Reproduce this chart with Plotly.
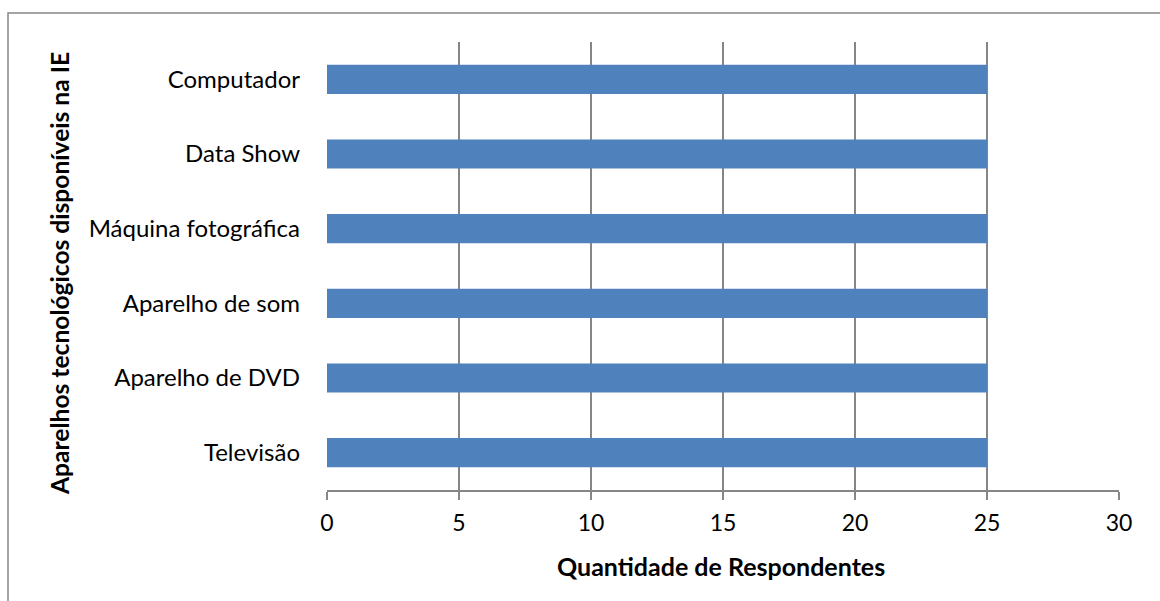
import plotly.graph_objects as go

categories = ["Televisão", "Aparelho de DVD", "Aparelho de som",
              "Máquina fotográfica", "Data Show", "Computador"]
values = [25, 25, 25, 25, 25, 25]
x_ticks = [0, 5, 10, 15, 20, 25, 30]
x_title = "Quantidade de Respondentes"
y_title = "Aparelhos tecnológicos disponíveis na IE"

GRID = "#868686"
FONT = "Lato, 'Open Sans', sans-serif"

fig = go.Figure(go.Bar(
    y=categories, x=values, orientation="h",
    marker=dict(color="#4F81BD", line=dict(width=0)),
))

L, R, T, B = 327, 41, 42, 111
W, H = 1160, 601
pw, ph = W - L - R, H - T - B

def px_x(p):
    return (p - L) / pw

def px_y(p):
    return (H - B - p) / ph

fig.update_layout(
    width=W, height=H,
    margin=dict(l=L, r=R, t=T, b=B),
    paper_bgcolor="white", plot_bgcolor="white",
    bargap=0.61,
    showlegend=False,
    font=dict(family=FONT, size=24, color="#000000"),
    xaxis=dict(
        range=[0, 30], tickvals=x_ticks, ticktext=[str(v) for v in x_ticks],
        showgrid=True, gridcolor=GRID, gridwidth=1.5,
        showline=True, linecolor=GRID, linewidth=1.5,
        ticks="outside", ticklen=8, tickcolor=GRID, tickwidth=1.5,
        zeroline=False, fixedrange=True,
        ticklabelstandoff=4,
        tickfont=dict(size=23),
    ),
    yaxis=dict(
        categoryorder="array", categoryarray=categories,
        showgrid=False, showline=False, ticks="", zeroline=False,
        ticklabelstandoff=26,
        tickfont=dict(size=24),
        fixedrange=True,
    ),
    annotations=[
        dict(text="<b>" + x_title + "</b>", xref="paper", yref="paper",
             x=px_x(721), y=px_y(566), showarrow=False,
             xanchor="center", yanchor="middle", font=dict(size=25)),
        dict(text="<b>" + y_title + "</b>", xref="paper", yref="paper",
             x=px_x(59), y=px_y(274), showarrow=False, textangle=-90,
             xanchor="center", yanchor="middle", font=dict(size=24.6)),
    ],
    shapes=[dict(
        type="rect", xref="paper", yref="paper",
        x0=px_x(8), x1=px_x(1170), y0=px_y(612), y1=px_y(13),
        line=dict(color=GRID, width=1.5), fillcolor="rgba(0,0,0,0)",
        layer="below",
    )],
)

fig.write_html("out.html")
